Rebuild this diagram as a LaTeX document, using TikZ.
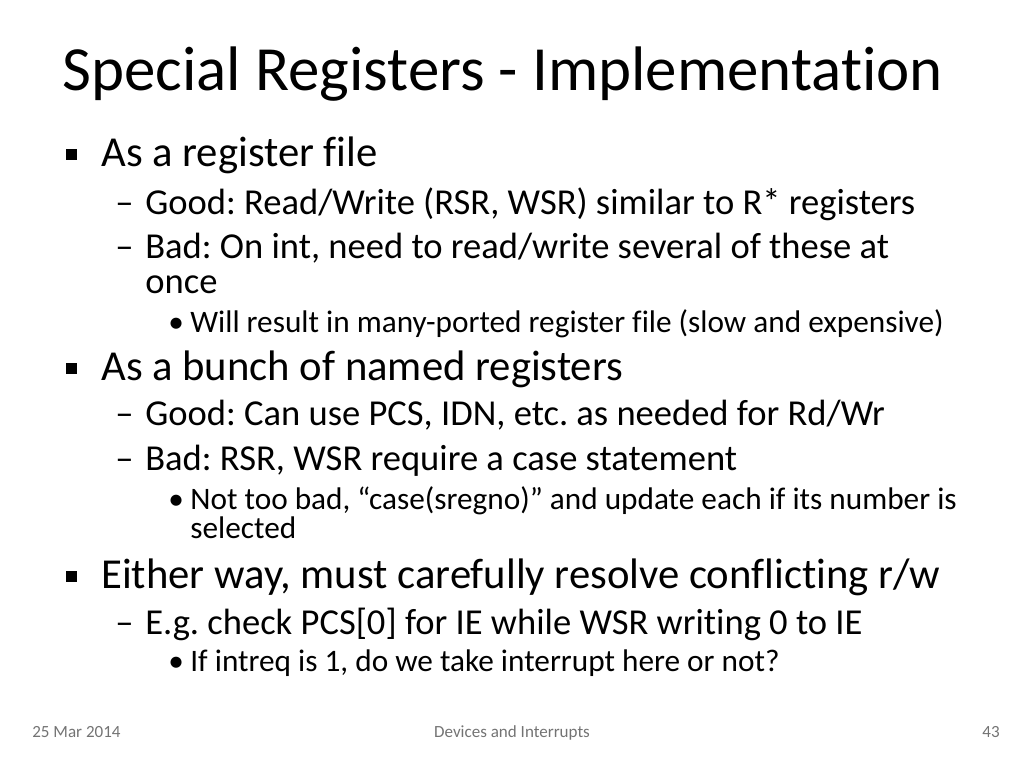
\documentclass[tikz,border=0pt]{standalone}
\usepackage{fontspec}
\setmainfont{Carlito}[Ligatures=CommonOff]
\frenchspacing
\newcommand{\sqbullet}{\rule{6.2pt}{6.2pt}}
\tikzset{
  every node/.style={anchor=base west,inner sep=0pt},
  lone/.style={font=\fontsize{24.3}{30}\selectfont},
  ltwo/.style={font=\fontsize{20.8}{24}\selectfont},
  lthree/.style={font=\fontsize{17.8}{21}\selectfont},
  foot/.style={font=\fontsize{9.7}{12}\selectfont,text=black!55}
}
\begin{document}
\begin{tikzpicture}[x=0.02cm,y=-0.02cm]
\useasboundingbox (0,0) rectangle (1024,768);
\node[font=\fontsize{35.8}{42}\selectfont] (title) at (62,90) {Special Registers - Implementation};
% first bullet
\node[lone] (b1) at (66,160) {\sqbullet};
\node[lone] (t1) at (101,166) {As a register file};
\node[ltwo] (d11) at (115,214) {–};
\node[ltwo] (t11) at (145,214) {Good: Read/Write (RSR, WSR) similar to R* registers};
\node[ltwo] (d12) at (115,258) {–};
\node[ltwo] (t12) at (145,258) {Bad: On int, need to read/write several of these at};
\node[ltwo] (t12b) at (145,293) {once};
\node[lthree] (p121) at (168,332) {•};
\node[lthree] (t121) at (190,332) {Will result in many-ported register file (slow and expensive)};
% second bullet
\node[lone] (b2) at (66,374) {\sqbullet};
\node[lone] (t2) at (101,380) {As a bunch of named registers};
\node[ltwo] (d21) at (115,425) {–};
\node[ltwo] (t21) at (145,425) {Good: Can use PCS, IDN, etc. as needed for Rd/Wr};
\node[ltwo] (d22) at (115,470) {–};
\node[ltwo] (t22) at (145,470) {Bad: RSR, WSR require a case statement};
\node[lthree] (p221) at (168,509) {•};
\node[lthree] (t221) at (190,509) {Not too bad, “case(sregno)” and update each if its number is};
\node[lthree] (t221b) at (190,538) {selected};
% third bullet
\node[lone] (b3) at (66,582) {\sqbullet};
\node[lone] (t3) at (101,588) {Either way, must carefully resolve conflicting r/w};
\node[ltwo] (d31) at (115,634) {–};
\node[ltwo] (t31) at (145,634) {E.g. check PCS[0] for IE while WSR writing 0 to IE};
\node[lthree] (p311) at (168,671) {•};
\node[lthree] (t311) at (190,671) {If intreq is 1, do we take interrupt here or not?};
% footer
\node[foot] (date) at (32,737) {25 Mar 2014};
\node[foot,anchor=base] (topic) at (512,737) {Devices and Interrupts};
\node[foot,anchor=base east] (page) at (1000,737) {43};
\end{tikzpicture}
\end{document}
